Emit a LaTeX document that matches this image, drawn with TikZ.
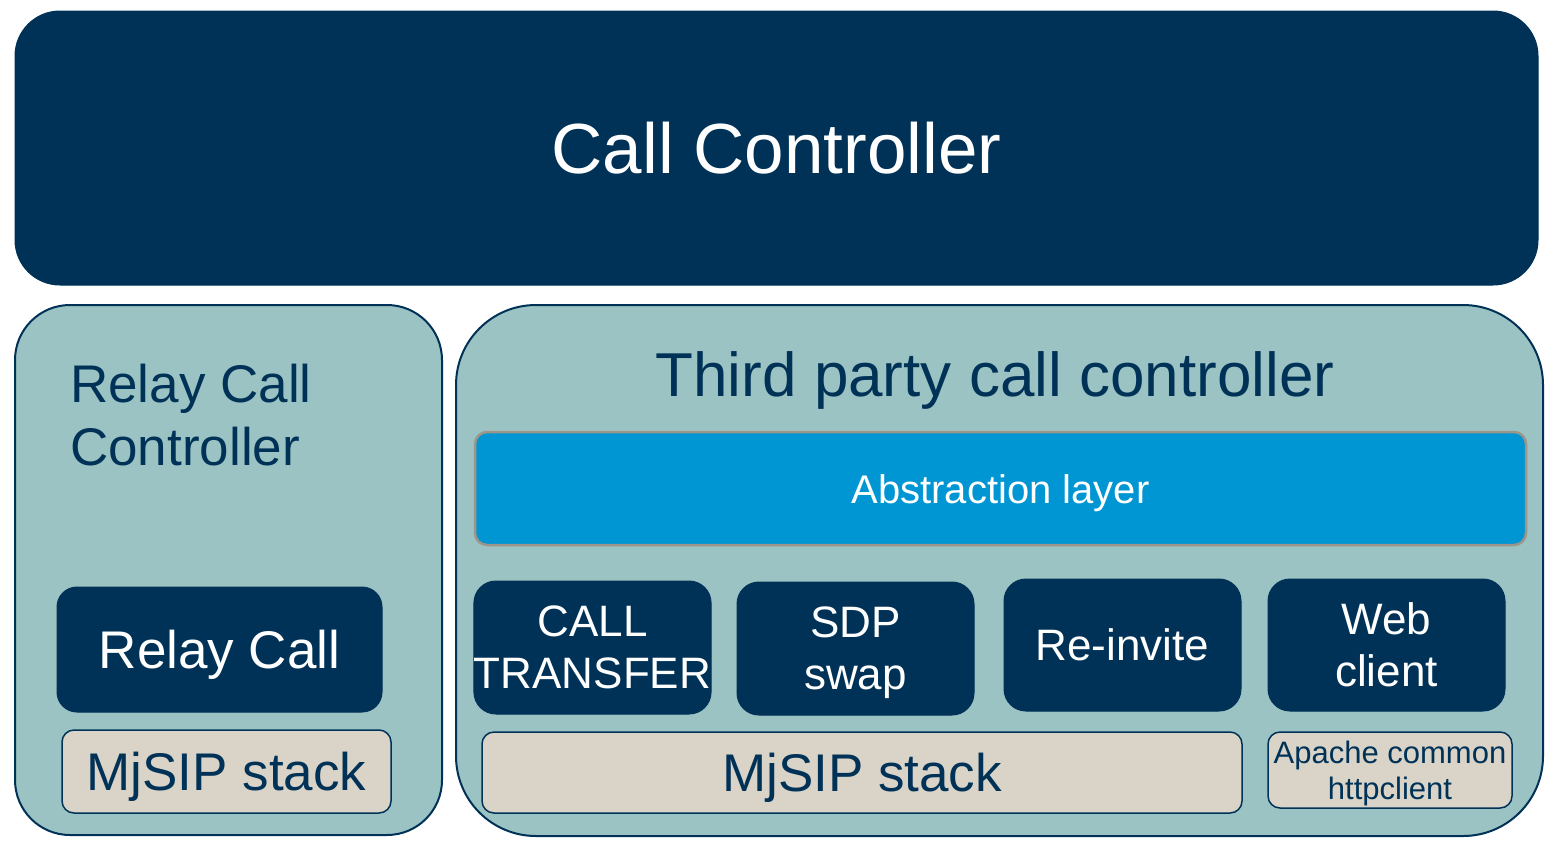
\documentclass[tikz,border=0pt]{standalone}
\usepackage{fontspec}
\setmainfont{Liberation Sans}
\definecolor{navy}{HTML}{003257}
\definecolor{teal}{HTML}{9CC3C3}
\definecolor{absblue}{HTML}{0095D3}
\definecolor{beige}{HTML}{DAD3C7}
\definecolor{absedge}{HTML}{9C9589}
\tikzset{
  darkbox/.style={fill=navy, draw=navy, line width=1pt, text=white, inner sep=0pt, align=center, text depth=0pt},
  tealbox/.style={fill=teal, draw=navy, line width=2pt, inner sep=0pt},
  beigebox/.style={fill=beige, draw=navy, line width=1.5pt, text=navy, inner sep=0pt, align=center, text depth=0pt},
  absbox/.style={fill=absblue, draw=absedge, line width=2.5pt, text=white, inner sep=0pt, align=center, text depth=0pt},
  title/.style={text=navy, inner sep=0pt},
}
\begin{document}
\begin{tikzpicture}[x=1pt,y=-1pt]
\useasboundingbox (0,0) rectangle (1560,852);
% top controller
\node[darkbox, rounded corners=45pt, minimum width=1523pt, minimum height=274pt,
      font=\fontsize{71pt}{80pt}\selectfont] (cc) at (776.5,148) {Call Controller};
% relay call controller
\node[tealbox, rounded corners=55pt, minimum width=427pt, minimum height=530pt] (rcc) at (228.5,570) {};
\node[title, anchor=north west, align=left, font=\fontsize{53pt}{63pt}\selectfont] (rcct) at (70,364) {Relay Call\\Controller};
\node[darkbox, rounded corners=20pt, minimum width=325pt, minimum height=125pt,
      font=\fontsize{53pt}{60pt}\selectfont] (rc) at (219.5,649.5) {Relay Call};
\node[beigebox, rounded corners=12pt, minimum width=329pt, minimum height=83pt,
      font=\fontsize{53pt}{60pt}\selectfont] (mj1) at (226.5,771.5) {MjSIP stack};
% third party controller
\node[tealbox, rounded corners=80pt, minimum width=1087pt, minimum height=531pt] (tpc) at (999.5,570.5) {};
\node[title, anchor=base, font=\fontsize{62pt}{70pt}\selectfont] (tpct) at (995,396) {Third party call controller};
\node[absbox, rounded corners=12pt, minimum width=1051pt, minimum height=113pt,
      font=\fontsize{40pt}{46pt}\selectfont] (abs) at (1000.5,488.5) {Abstraction layer};
\node[darkbox, rounded corners=22pt, minimum width=237pt, minimum height=133pt,
      font=\fontsize{44pt}{52pt}\selectfont] (ct) at (592.5,647.5) {CALL\\TRANSFER};
\node[darkbox, rounded corners=22pt, minimum width=237pt, minimum height=133pt,
      font=\fontsize{44pt}{52pt}\selectfont] (sdp) at (855.5,648.5) {SDP\\swap};
\node[darkbox, rounded corners=22pt, minimum width=237pt, minimum height=132pt,
      font=\fontsize{44pt}{52pt}\selectfont] (ri) at (1122.5,645) {Re-invite};
\node[darkbox, rounded corners=22pt, minimum width=237pt, minimum height=132pt,
      font=\fontsize{44pt}{52pt}\selectfont] (wc) at (1386.5,645) {Web\\client};
\node[beigebox, rounded corners=12pt, minimum width=760pt, minimum height=81pt,
      font=\fontsize{53pt}{60pt}\selectfont] (mj2) at (862,772.5) {MjSIP stack};
\node[beigebox, rounded corners=12pt, minimum width=244pt, minimum height=76pt,
      font=\fontsize{31pt}{36pt}\selectfont] (ap) at (1390,770) {Apache common\\httpclient};
\end{tikzpicture}
\end{document}
